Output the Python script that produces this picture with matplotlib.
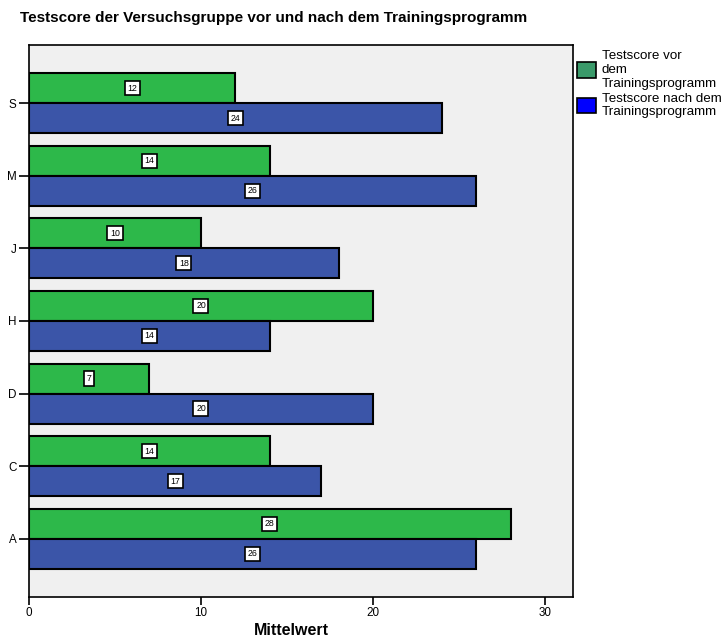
import matplotlib.pyplot as plt
import numpy as np
from matplotlib.patches import Patch

plt.rcParams['font.family'] = ['Liberation Sans', 'DejaVu Sans']

categories = ['A', 'C', 'D', 'H', 'J', 'M', 'S']
vor = [28, 14, 7, 20, 10, 14, 12]
nach = [26, 17, 20, 14, 18, 26, 24]

fig = plt.figure(figsize=(7.23, 6.37), dpi=100)
ax = fig.add_axes([0.0401, 0.0628, 0.7524, 0.8666])
ax.set_facecolor('#f0f0f0')

y = np.arange(len(categories))
h = 0.413
ax.barh(y + h / 2, vor, height=h, color='#2db84a', edgecolor='black', linewidth=1.5)
ax.barh(y - h / 2, nach, height=h, color='#3b55a8', edgecolor='black', linewidth=1.5)

# Wertelabels in der Mitte der Balken
box = dict(boxstyle='square,pad=0.3', facecolor='white', edgecolor='black', linewidth=1.2)
for i in range(len(categories)):
    ax.text(vor[i] / 2, y[i] + h / 2, str(vor[i]), ha='center', va='center', fontsize=6.3, bbox=box)
    ax.text(nach[i] / 2, y[i] - h / 2, str(nach[i]), ha='center', va='center', fontsize=6.3, bbox=box)

ax.set_xlim(0, 31.63)
ax.set_ylim(-0.8, 6.8)
ax.set_yticks(y)
ax.set_yticklabels(categories)
ax.set_xticks([0, 10, 20, 30])
ax.tick_params(axis='x', labelsize=8.4, length=6, width=1.2, pad=1)
ax.tick_params(axis='y', labelsize=8.4, length=7, width=1.2, pad=2)
for s in ax.spines.values():
    s.set_linewidth(1.2)

fig.text(0.4025, 0.003, 'Mittelwert', fontsize=11.5, fontweight='bold', ha='center', va='baseline')
fig.text(0.028, 0.972, 'Testscore der Versuchsgruppe vor und nach dem Trainingsprogramm',
         fontsize=11, fontweight='bold', va='center')

handles = [Patch(facecolor='#3a9a6a', edgecolor='black', linewidth=1.2),
           Patch(facecolor='#0000ff', edgecolor='black', linewidth=1.2)]
fig.legend(handles, ['Testscore vor\ndem\nTrainingsprogramm', 'Testscore nach dem\nTrainingsprogramm'],
           loc='upper left', bbox_to_anchor=(0.798, 0.921), frameon=False,
           prop={'size': 9.6}, handlelength=1.4, handleheight=1.4,
           handletextpad=0.45, labelspacing=0.2, borderaxespad=0, borderpad=0)

plt.savefig('out.png', dpi=100)
